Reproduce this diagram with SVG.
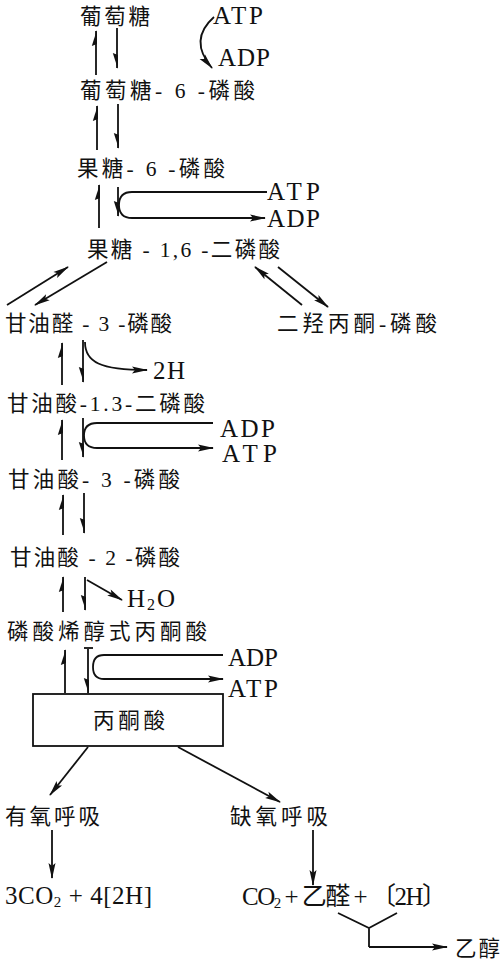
<svg xmlns="http://www.w3.org/2000/svg" width="500" height="967" viewBox="0 0 500 967">
<style>
text{font-family:"Liberation Serif","Noto Sans CJK SC",serif;fill:#111}
.cn{font-size:21.5px}
.en{font-size:25px}
.c{fill:none;stroke:#111;stroke-width:1.8}
.up{marker-end:url(#hL)}
.dn{marker-end:url(#hR)}
.ar{marker-end:url(#tri)}
</style>
<defs>
<marker id="hL" markerUnits="userSpaceOnUse" orient="auto" overflow="visible" markerWidth="1" markerHeight="1"><path d="M1,0.9 L-15,-4.2 L-13,0.9 Z" fill="#111"/></marker>
<marker id="hR" markerUnits="userSpaceOnUse" orient="auto" overflow="visible" markerWidth="1" markerHeight="1"><path d="M1,-0.9 L-15,4.2 L-13,-0.9 Z" fill="#111"/></marker>
<marker id="tri" markerUnits="userSpaceOnUse" orient="auto" overflow="visible" markerWidth="1" markerHeight="1"><path d="M1,0 L-15,-3.5 L-12,0 L-15,3.5 Z" fill="#111"/></marker>
</defs>

<g id="glucose"><text class="cn" x="80" y="24" textLength="70" lengthAdjust="spacing">葡萄糖</text></g>
<g id="atp1"><text class="en" x="213" y="24" textLength="50" lengthAdjust="spacing">ATP</text></g>
<g id="adp1"><text class="en" x="218" y="66" textLength="52" lengthAdjust="spacing">ADP</text></g>
<g id="g6p"><text class="cn" x="80" y="98" textLength="175" lengthAdjust="spacing">葡萄糖- 6 -磷酸</text></g>
<g id="f6p"><text class="cn" x="77" y="176" textLength="148" lengthAdjust="spacing">果糖- 6 -磷酸</text></g>
<g id="atp2"><text class="en" x="267" y="200" textLength="53" lengthAdjust="spacing">ATP</text></g>
<g id="adp2"><text class="en" x="267" y="227" textLength="53" lengthAdjust="spacing">ADP</text></g>
<g id="f16bp"><text class="cn" x="87" y="257" textLength="193" lengthAdjust="spacing">果糖 - 1,6 -二磷酸</text></g>
<g id="g3p"><text class="cn" x="5" y="331" textLength="167" lengthAdjust="spacing">甘油醛 - 3 -磷酸</text></g>
<g id="dhap"><text class="cn" x="277" y="331" textLength="160" lengthAdjust="spacing">二羟丙酮-磷酸</text></g>
<g id="h2"><text class="en" x="153" y="379" textLength="32" lengthAdjust="spacing">2H</text></g>
<g id="bpg"><text class="cn" x="7" y="411" textLength="198" lengthAdjust="spacing">甘油酸-1.3-二磷酸</text></g>
<g id="adp3"><text class="en" x="220" y="437" textLength="55" lengthAdjust="spacing">ADP</text></g>
<g id="atp3"><text class="en" x="222" y="462" textLength="55" lengthAdjust="spacing">ATP</text></g>
<g id="pg3"><text class="cn" x="8" y="487" textLength="172" lengthAdjust="spacing">甘油酸- 3 -磷酸</text></g>
<g id="pg2"><text class="cn" x="10" y="565" textLength="170" lengthAdjust="spacing">甘油酸 - 2 -磷酸</text></g>
<g id="h2o"><text class="en" x="127" y="607" textLength="48" lengthAdjust="spacing">H<tspan font-size="16" dy="3">2</tspan><tspan dy="-3">O</tspan></text></g>
<g id="pep"><text class="cn" x="7" y="639" textLength="200" lengthAdjust="spacing">磷酸烯醇式丙酮酸</text></g>
<g id="adp4"><text class="en" x="228" y="666" textLength="50" lengthAdjust="spacing">ADP</text></g>
<g id="atp4"><text class="en" x="228" y="697" textLength="50" lengthAdjust="spacing">ATP</text></g>
<g id="pyruvate">
<rect x="33" y="694" width="190" height="52" fill="none" stroke="#111" stroke-width="1.8"/>
<text class="cn" x="93" y="728" textLength="72" lengthAdjust="spacing">丙酮酸</text>
</g>
<g id="aerobic"><text class="cn" x="5" y="824" textLength="95" lengthAdjust="spacing">有氧呼吸</text></g>
<g id="anaerobic"><text class="cn" x="230" y="824" textLength="98" lengthAdjust="spacing">缺氧呼吸</text></g>
<g id="aerobicProd"><text class="en" x="5" y="904" font-size="23" textLength="147" lengthAdjust="spacing">3CO<tspan font-size="15" dy="3">2</tspan><tspan dy="-3"> + 4[2H]</tspan></text></g>
<g id="anaerobicProd"><text class="en" x="242" y="905" font-size="23" textLength="205" lengthAdjust="spacing">CO<tspan font-size="15" dy="3">2</tspan><tspan dy="-3"> + 乙醛 + 〔2H〕</tspan></text></g>
<g id="ethanol"><text class="cn" x="455" y="956" textLength="45" lengthAdjust="spacing">乙醇</text></g>

<g id="connectors">
<path class="c up" d="M96,75 L96,31"/>
<path class="c dn" d="M117,28 L117,68"/>
<path class="c ar" d="M214,17 Q188,40 212,68"/>

<path class="c up" d="M97,150 L97,106"/>
<path class="c dn" d="M118,104 L118,148"/>

<path class="c up" d="M99,228 L99,185"/>
<path class="c dn" d="M118,187 L118,216"/>
<path class="c ar" d="M267,192 L132,192 Q119,192 119,205 Q119,218 132,218 L265,218"/>

<path class="c ar" d="M7,305 L68,267"/>
<path class="c ar" d="M107,262 L35,305"/>
<path class="c ar" d="M302,305 L255,267"/>
<path class="c ar" d="M278,267 L328,307"/>

<path class="c up" d="M62,385 L62,343"/>
<path class="c dn" d="M83,340 L83,382"/>
<path class="c ar" d="M85,342 C85,362 100,370 147,370"/>

<path class="c up" d="M62,460 L62,420"/>
<path class="c dn" d="M83,418 L83,457"/>
<path class="c ar" d="M213,423 L97,423 Q84,423 84,435.5 Q84,448 97,448 L213,448"/>

<path class="c up" d="M63,535 L63,495"/>
<path class="c dn" d="M84,493 L84,533"/>

<path class="c up" d="M63,612 L63,577"/>
<path class="c dn" d="M85,577 L85,610"/>
<path class="c ar" d="M87,580 L122,600"/>

<path class="c up" d="M65,693 L65,650"/>
<path class="c dn" d="M88,649 L88,693"/>
<path class="c" d="M84,648 L93,648"/>
<path class="c ar" d="M223,655 L104,655 Q93,655 93,667 Q93,679 104,679 L223,679"/>

<path class="c ar" d="M88,747 L50,795"/>
<path class="c ar" d="M178,747 L280,802"/>
<path class="c ar" d="M52,830 L52,878"/>
<path class="c ar" d="M313,830 L313,885"/>
<path class="c" d="M338,913 L369,928 L397,913 M369,928 L369,947"/>
<path class="c ar" d="M369,947 L447,947"/>
</g>
</svg>
